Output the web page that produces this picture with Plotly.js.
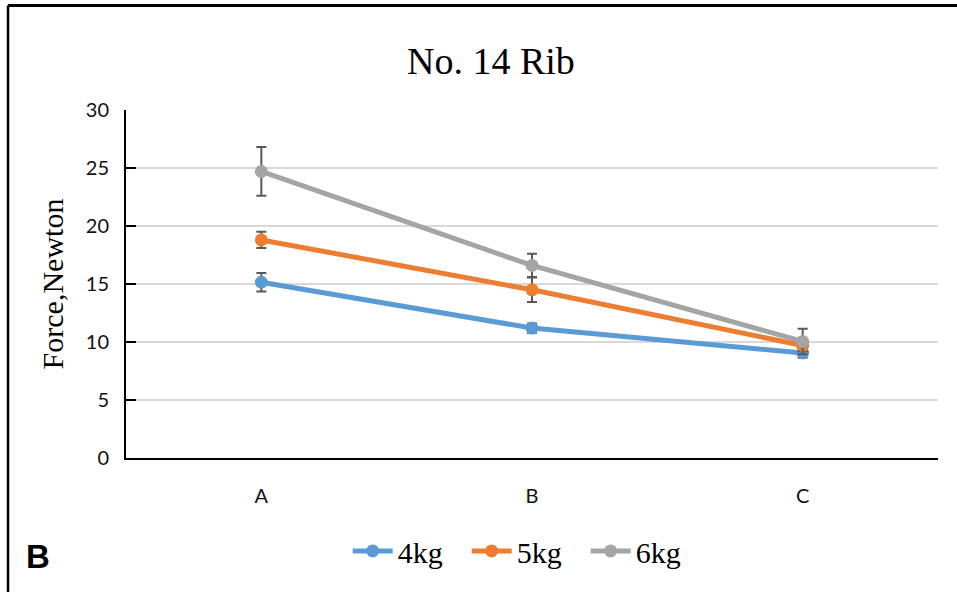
<!DOCTYPE html>
<html>
<head>
<meta charset="utf-8">
<script src="https://cdn.plot.ly/plotly-3.0.1.min.js"></script>
<style>
html,body{margin:0;padding:0;background:#fff;}
#chart{width:957px;height:592px;}
</style>
</head>
<body>
<div id="chart"></div>
<script>
const categories = ["A", "B", "C"];
const seriesNames = ["4kg", "5kg", "6kg"];
const force4kg = [15.15, 11.2, 9.05];
const force5kg = [18.8, 14.5, 9.7];
const force6kg = [24.7, 16.6, 10.05];
const err4kg = [0.8, 0.4, 0.4];
const err5kg = [0.7, 1.05, 0.5];
const err6kg = [2.1, 1.0, 1.1];
const yTicks = [0, 5, 10, 15, 20, 25, 30];
const colors = ["#5B9BD5", "#ED7D31", "#A5A5A5"];

const values = [force4kg, force5kg, force6kg];
const errors = [err4kg, err5kg, err6kg];

const traces = seriesNames.map((name, i) => ({
  type: "scatter",
  mode: "lines+markers",
  name: name,
  x: categories,
  y: values[i],
  line: {color: colors[i], width: 5},
  marker: {color: colors[i], size: 13, symbol: "circle"},
  error_y: {type: "data", array: errors[i], visible: true, color: "#595959", thickness: 2, width: 5}
}));

const layout = {
  width: 957,
  height: 592,
  margin: {l: 126, r: 19, t: 110, b: 134},
  paper_bgcolor: "#ffffff",
  plot_bgcolor: "#ffffff",
  showlegend: true,
  title: {
    text: "No. 14 Rib",
    font: {family: "Liberation Serif, Times New Roman, serif", size: 38, color: "#000"},
    x: 0.513, xanchor: "center",
    yref: "container", y: 0.898, yanchor: "middle"
  },
  xaxis: {
    type: "category",
    range: [-0.5, 2.5],
    showline: true, linecolor: "#000", linewidth: 2,
    showgrid: false, zeroline: false,
    ticks: "",
    ticklabelstandoff: 19,
    tickfont: {family: "Lato, Open Sans, sans-serif", size: 20, color: "#111"},
    fixedrange: true
  },
  yaxis: {
    range: [0, 30],
    tickvals: yTicks,
    showline: true, linecolor: "#000", linewidth: 2,
    showgrid: true, gridcolor: "#d9d9d9", gridwidth: 2,
    zeroline: false,
    ticks: "inside", ticklen: 10, tickwidth: 2, tickcolor: "#000",
    ticklabelstandoff: 11,
    tickfont: {family: "Lato, Open Sans, sans-serif", size: 20, color: "#111"},
    title: {
      text: "Force,Newton",
      font: {family: "Liberation Serif, Times New Roman, serif", size: 30, color: "#000"},
      standoff: 13
    },
    fixedrange: true
  },
  legend: {
    orientation: "h",
    x: 0.273, xanchor: "left",
    y: -0.267, yanchor: "middle",
    font: {family: "Liberation Serif, Times New Roman, serif", size: 30, color: "#000"},
    itemwidth: 40,
    entrywidth: 64,
    tracegroupgap: 0
  },
  annotations: [{
    text: "<b>B</b>",
    xref: "paper", yref: "paper",
    x: -0.1084, y: -0.284,
    xanchor: "center", yanchor: "middle",
    showarrow: false,
    font: {family: "Liberation Sans, Arial, sans-serif", size: 33, color: "#000"}
  }],
  shapes: [
    {type: "line", xref: "paper", yref: "paper", x0: -0.1453, x1: -0.1453, y0: -0.40, y1: 1.3003,
     line: {color: "#000", width: 2.5}},
    {type: "line", xref: "paper", yref: "paper", x0: -0.1453, x1: 1.05, y0: 1.3003, y1: 1.3003,
     line: {color: "#000", width: 3}}
  ]
};

Plotly.newPlot("chart", traces, layout, {displayModeBar: false, staticPlot: true});
</script>
</body>
</html>
